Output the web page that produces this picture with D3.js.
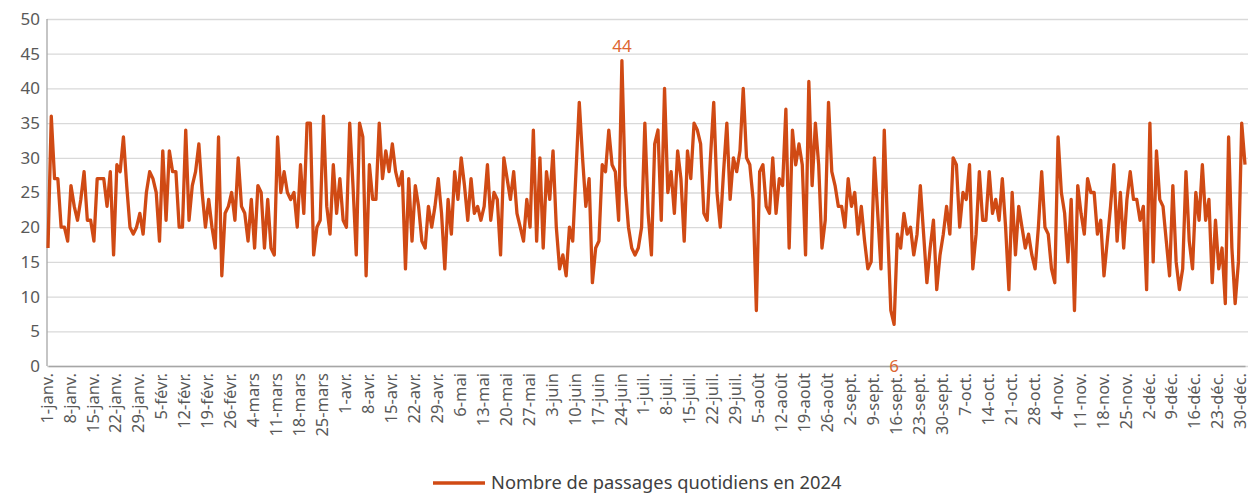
<!DOCTYPE html>
<html><head><meta charset="utf-8">
<script src="https://cdn.jsdelivr.net/npm/d3@7"></script>
<style>
body{margin:0;background:#fff}
text{font-family:"Noto Sans","Liberation Sans",Arial,sans-serif}
</style>
</head><body>
<svg id="c" width="1251" height="494"></svg>
<script>
// Daily values, 1 Jan 2024 .. 31 Dec 2024 (366 days)
const values = [
17,36,27,27,20,20,18,26,23,21,24,28,21,21,18,27,27,27,23,28,16,29,28,33,26,20,19,20,22,19,25,28,
27,25,18,31,21,31,28,28,20,20,34,21,26,28,32,25,20,24,20,17,33,13,22,23,25,21,30,23,22,18,24,17,26,
25,17,24,17,16,33,25,28,25,24,25,20,29,22,35,35,16,20,21,36,23,19,29,22,27,21,20,35,26,16,35,33,13,29,
24,24,35,27,31,28,32,28,26,28,14,27,18,26,23,18,17,23,20,23,27,22,14,24,19,28,24,30,26,21,27,22,23,21,
23,29,21,25,24,16,30,27,24,28,22,20,18,24,20,34,18,30,17,28,24,31,20,14,16,13,20,18,28,38,30,23,27,12,
17,18,29,28,34,29,28,21,44,26,20,17,16,17,20,35,22,16,32,34,21,40,25,28,22,31,27,18,31,27,35,34,32,
22,21,30,38,25,20,28,35,24,30,28,31,40,30,29,24,8,28,29,23,22,30,22,27,26,37,17,34,29,32,29,16,41,
26,35,29,17,21,38,28,26,23,23,20,27,23,25,19,23,18,14,15,30,22,14,34,20,8,6,19,17,22,19,20,16,19,26,
19,12,17,21,11,16,19,23,19,30,29,20,25,24,29,14,19,28,21,21,28,22,24,21,27,20,11,25,16,23,20,17,19,
16,14,20,28,20,19,14,12,33,25,22,15,24,8,26,22,19,27,25,25,19,21,13,18,23,29,18,25,17,24,28,24,24,
21,23,11,35,15,31,24,23,18,13,26,15,11,14,28,18,14,25,21,29,21,24,12,21,14,17,9,33,17,9,15,35,29
];
const tickLabels = ["1-janv.","8-janv.","15-janv.","22-janv.","29-janv.","5-févr.","12-févr.","19-févr.","26-févr.",
"4-mars","11-mars","18-mars","25-mars","1-avr.","8-avr.","15-avr.","22-avr.","29-avr.","6-mai","13-mai","20-mai","27-mai",
"3-juin","10-juin","17-juin","24-juin","1-juil.","8-juil.","15-juil.","22-juil.","29-juil.","5-août","12-août","19-août","26-août",
"2-sept.","9-sept.","16-sept.","23-sept.","30-sept.","7-oct.","14-oct.","21-oct.","28-oct.","4-nov.","11-nov.","18-nov.","25-nov.",
"2-déc.","9-déc.","16-déc.","23-déc.","30-déc."];
const yTicks = [0,5,10,15,20,25,30,35,40,45,50];
const seriesName = "Nombre de passages quotidiens en 2024";

const lineColor = "#D04A14";
const labelColor = "#DD6631";
const svg = d3.select("#c");

const x = d3.scaleLinear().domain([0, values.length - 1]).range([48, 1245]);
const y = d3.scaleLinear().domain([0, 50]).range([366, 19]);

// grid + y axis
const gy = svg.append("g").attr("transform","translate(47,0)")
  .call(d3.axisLeft(y).tickValues(yTicks).tickSize(-(1248-47)).tickPadding(7));
gy.select(".domain").remove();
gy.selectAll(".tick line").attr("stroke","#d9d9d9").attr("stroke-width",1.3);
gy.selectAll(".tick text").attr("fill","#595959").style("font-size","17px");

// left axis line
svg.append("line").attr("x1",47).attr("x2",47).attr("y1",y(50)).attr("y2",y(0))
  .attr("stroke","#a6a6a6").attr("stroke-width",1.3);
// bottom axis
const gx = svg.append("g").attr("transform",`translate(0,${y(0)})`)
  .call(d3.axisBottom(x).tickValues(d3.range(0, values.length, 7)).tickFormat((d,i)=>tickLabels[i]).tickSize(0).tickPadding(0));
gx.select(".domain").attr("stroke","#a6a6a6").attr("stroke-width",1.3);
gx.selectAll(".tick text")
  .attr("transform","rotate(-90)")
  .attr("text-anchor","end")
  .attr("x",-7).attr("y",0).attr("dy","0.25em")
  .attr("fill","#595959").style("font-size","16.5px");

// line
svg.append("path").datum(values)
  .attr("fill","none").attr("stroke",lineColor).attr("stroke-width",3.3)
  .attr("stroke-linejoin","round")
  .attr("d", d3.line().x((d,i)=>x(i)).y(d=>y(d)));

// max / min labels
const maxI = d3.maxIndex(values), minI = d3.minIndex(values);
svg.append("text").attr("x",x(maxI)).attr("y",y(values[maxI])-9)
  .attr("text-anchor","middle").attr("fill",labelColor).style("font-size","17px").text(values[maxI]);
svg.append("text").attr("x",x(minI)).attr("y",y(values[minI])+48)
  .attr("text-anchor","middle").attr("fill",labelColor).style("font-size","17px").text(values[minI]);

// legend
svg.append("line").attr("x1",433).attr("x2",485).attr("y1",483).attr("y2",483)
  .attr("stroke",lineColor).attr("stroke-width",3.3);
svg.append("text").attr("x",491).attr("y",483).attr("dy","0.35em")
  .attr("fill","#404040").style("font-size","18.3px").text(seriesName);
</script>
</body></html>
